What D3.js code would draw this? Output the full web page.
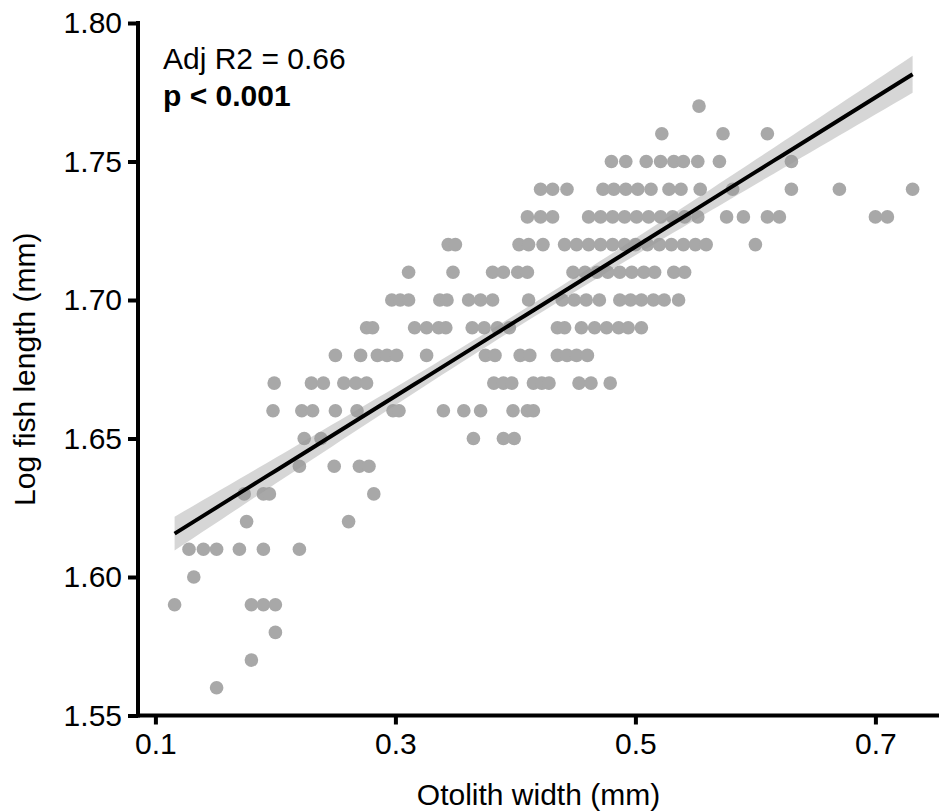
<!DOCTYPE html>
<html>
<head>
<meta charset="utf-8">
<script src="https://cdn.jsdelivr.net/npm/d3@7"></script>
<style>
  body { margin: 0; background: #fff; }
  text { font-family: "Liberation Sans", Arial, sans-serif; fill: #000; }
  .tick text { font-size: 30px; }
  .axis path, .axis line { stroke: #000; stroke-width: 4; }
</style>
</head>
<body>
<div id="chart"></div>
<script>
// Log fish length levels (one row of points per level) and otolith widths
const lengthLevels = [1.56, 1.57, 1.58, 1.59, 1.60, 1.61, 1.62, 1.63, 1.64, 1.65, 1.66,
  1.67, 1.68, 1.69, 1.70, 1.71, 1.72, 1.73, 1.74, 1.75, 1.76, 1.77];

const widths156 = [0.151];
const widths157 = [0.180];
const widths158 = [0.200];
const widths159 = [0.116, 0.180, 0.190, 0.200];
const widths160 = [0.132];
const widths161 = [0.128, 0.140, 0.151, 0.170, 0.190, 0.220];
const widths162 = [0.176, 0.261];
const widths163 = [0.174, 0.190, 0.195, 0.282];
const widths164 = [0.220, 0.249, 0.270, 0.278];
const widths165 = [0.224, 0.238, 0.365, 0.390, 0.399];
const widths166 = [0.198, 0.222, 0.231, 0.250, 0.268, 0.298, 0.303, 0.340, 0.357, 0.371,
  0.398, 0.410, 0.415];
const widths167 = [0.199, 0.230, 0.240, 0.257, 0.267, 0.276, 0.382, 0.390, 0.397, 0.415,
  0.422, 0.428, 0.453, 0.463, 0.479];
const widths168 = [0.250, 0.271, 0.285, 0.293, 0.301, 0.326, 0.375, 0.383, 0.404, 0.412,
  0.435, 0.443, 0.451, 0.460];
const widths169 = [0.276, 0.281, 0.316, 0.326, 0.336, 0.342, 0.364, 0.374, 0.385, 0.395,
  0.435, 0.441, 0.455, 0.466, 0.476, 0.486, 0.494, 0.505];
const widths170 = [0.297, 0.304, 0.311, 0.337, 0.343, 0.361, 0.371, 0.381, 0.411, 0.439,
  0.449, 0.459, 0.470, 0.487, 0.496, 0.505, 0.515, 0.524, 0.536];
const widths171 = [0.311, 0.348, 0.381, 0.390, 0.402, 0.410, 0.448, 0.458, 0.468, 0.477,
  0.487, 0.497, 0.507, 0.516, 0.532, 0.541];
const widths172 = [0.344, 0.350, 0.403, 0.411, 0.423, 0.441, 0.451, 0.461, 0.471, 0.481,
  0.491, 0.500, 0.510, 0.520, 0.530, 0.540, 0.550, 0.559, 0.600];
const widths173 = [0.410, 0.421, 0.431, 0.461, 0.471, 0.481, 0.491, 0.501, 0.511, 0.521,
  0.531, 0.541, 0.552, 0.576, 0.590, 0.610, 0.620, 0.700, 0.710];
const widths174 = [0.421, 0.431, 0.443, 0.473, 0.482, 0.492, 0.502, 0.513, 0.528, 0.538,
  0.554, 0.581, 0.630, 0.670, 0.731];
const widths175 = [0.480, 0.492, 0.509, 0.521, 0.532, 0.540, 0.552, 0.570, 0.630];
const widths176 = [0.522, 0.573, 0.610];
const widths177 = [0.553];

const widthRows = [widths156, widths157, widths158, widths159, widths160, widths161,
  widths162, widths163, widths164, widths165, widths166, widths167, widths168, widths169,
  widths170, widths171, widths172, widths173, widths174, widths175, widths176, widths177];

// linear fit as printed on the figure
const fitIntercept = 1.5844;
const fitSlope = 0.2696;
// many fish sit on top of each other, so the real sample is larger than the visible dots
const sampleSize = 360;
const adjR2Label = "Adj R2 = 0.66";
const pLabel = "p < 0.001";

const xTicks = [0.1, 0.3, 0.5, 0.7];
const yTicks = [1.55, 1.60, 1.65, 1.70, 1.75, 1.80];

const points = [];
widthRows.forEach((row, i) => {
  row.forEach((w) => points.push({ x: w, y: lengthLevels[i] }));
});

// Metrics
const width = 939;
const height = 812;
const panelLeft = 138;
const panelRight = 939;
const panelTop = 23;
const panelBottom = 715.5;

const xScale = d3.scaleLinear().domain([0.0855, 0.7530]).range([panelLeft, panelRight]);
const yScale = d3.scaleLinear().domain([1.55, 1.80]).range([panelBottom, panelTop]);

const svg = d3.select("#chart")
  .append("svg")
  .attr("width", width)
  .attr("height", height);

// points
svg.append("g")
  .selectAll("circle")
  .data(points)
  .join("circle")
  .attr("cx", (d) => xScale(d.x))
  .attr("cy", (d) => yScale(d.y))
  .attr("r", 6.8)
  .attr("fill", "#a8a8a8");

// confidence band around the fit (95%)
const xMean = d3.mean(points, (d) => d.x);
const xVar = d3.mean(points, (d) => (d.x - xMean) ** 2);
const resid = d3.sum(points, (d) => (d.y - (fitIntercept + fitSlope * d.x)) ** 2);
const sigma = Math.sqrt(resid / (points.length - 2));
const tCrit = 1.97;
const xExtent = d3.extent(points, (d) => d.x);
const xGrid = d3.range(0, 81).map((i) => xExtent[0] + (xExtent[1] - xExtent[0]) * i / 80);
const band = xGrid.map((x) => {
  const fit = fitIntercept + fitSlope * x;
  const se = sigma * Math.sqrt((1 + (x - xMean) ** 2 / xVar) / sampleSize);
  return { x, fit, lo: fit - tCrit * se, hi: fit + tCrit * se };
});

svg.append("path")
  .datum(band)
  .attr("fill", "#999999")
  .attr("fill-opacity", 0.4)
  .attr("d", d3.area()
    .x((d) => xScale(d.x))
    .y0((d) => yScale(d.lo))
    .y1((d) => yScale(d.hi)));

svg.append("path")
  .datum(band)
  .attr("fill", "none")
  .attr("stroke", "#000")
  .attr("stroke-width", 4)
  .attr("d", d3.line().x((d) => xScale(d.x)).y((d) => yScale(d.fit)));

// axes
const xAxis = d3.axisBottom(xScale)
  .tickValues(xTicks)
  .tickFormat(d3.format(".1f"))
  .tickSize(9)
  .tickSizeOuter(0)
  .tickPadding(8);

const yAxis = d3.axisLeft(yScale)
  .tickValues(yTicks)
  .tickFormat(d3.format(".2f"))
  .tickSize(10)
  .tickSizeOuter(0)
  .tickPadding(6);

const gx = svg.append("g")
  .attr("class", "axis")
  .attr("transform", `translate(0, ${panelBottom})`)
  .call(xAxis);
gx.select(".domain").attr("d", `M${panelLeft - 2},0H${panelRight}`);

const gy = svg.append("g")
  .attr("class", "axis")
  .attr("transform", `translate(${panelLeft}, 0)`)
  .call(yAxis);
gy.select(".domain").attr("d", `M0,${panelTop - 2}V${panelBottom + 2}`);

svg.selectAll(".tick text").attr("fill", "#000");

// axis titles
svg.append("text")
  .attr("x", (panelLeft + panelRight) / 2)
  .attr("y", 805)
  .attr("text-anchor", "middle")
  .style("font-size", "30px")
  .text("Otolith width (mm)");

svg.append("text")
  .attr("transform", `translate(35, ${(panelTop + panelBottom) / 2}) rotate(-90)`)
  .attr("text-anchor", "middle")
  .style("font-size", "30px")
  .text("Log fish length (mm)");

// fit annotation
svg.append("text")
  .attr("x", 163)
  .attr("y", 69)
  .style("font-size", "30px")
  .text(adjR2Label);

svg.append("text")
  .attr("x", 163)
  .attr("y", 106)
  .style("font-size", "30px")
  .style("font-weight", "bold")
  .text(pLabel);
</script>
</body>
</html>
